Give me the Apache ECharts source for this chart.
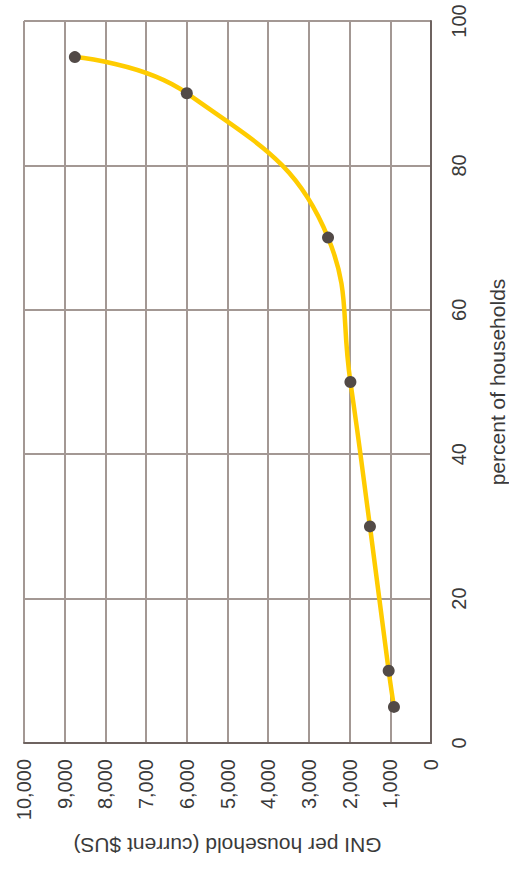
<!DOCTYPE html>
<html>
<head>
<meta charset="utf-8">
<script src="https://cdn.jsdelivr.net/npm/echarts@6/dist/echarts.min.js"></script>
<style>
html,body{margin:0;padding:0;background:#fff;}
#chart{width:509px;height:871px;}
</style>
</head>
<body>
<div id="chart"></div>
<script>
// percent of households (cumulative)
const percentHouseholds = [5, 10, 30, 50, 70, 90, 95];
// GNI per household (current $US)
const gniPerHousehold = [910, 1040, 1500, 1980, 2530, 6000, 8750];
const gniTicks = [0, 1000, 2000, 3000, 4000, 5000, 6000, 7000, 8000, 9000, 10000];
const percentTicks = [0, 20, 40, 60, 80, 100];

const points = percentHouseholds.map((p, i) => [gniPerHousehold[i], p]);

const chart = echarts.init(document.getElementById('chart'), null, {renderer: 'svg'});
const font = 'Liberation Sans, Arial, Helvetica, sans-serif';
const gridColor = '#a39894';
const axisColor = '#6e6360';
const textColor = '#3a3a3a';

chart.setOption({
  animation: false,
  grid: {left: 24, right: 78, top: 21, bottom: 128, containLabel: false, outerBoundsMode: 'none'},
  xAxis: {
    type: 'value',
    min: gniTicks[0],
    max: gniTicks[gniTicks.length - 1],
    interval: 1000,
    inverse: true,
    position: 'bottom',
    name: 'GNI per household (current $US)',
    nameLocation: 'middle',
    nameRotate: 180,
    nameGap: 92,
    nameTextStyle: {fontFamily: font, fontSize: 21, color: textColor},
    axisLine: {show: true, onZero: false, lineStyle: {color: axisColor, width: 2}},
    axisTick: {show: false},
    axisLabel: {
      rotate: 90, margin: 16, fontFamily: font, fontSize: 20, color: textColor,
      formatter: v => v.toLocaleString('en-US')
    },
    splitLine: {show: true, lineStyle: {color: gridColor, width: 2}}
  },
  yAxis: {
    type: 'value',
    min: percentTicks[0],
    max: percentTicks[percentTicks.length - 1],
    interval: 20,
    position: 'right',
    name: 'percent of households',
    nameLocation: 'middle',
    nameRotate: 90,
    nameGap: 56,
    nameTextStyle: {fontFamily: font, fontSize: 21, color: textColor},
    axisLine: {show: true, onZero: false, lineStyle: {color: axisColor, width: 2}},
    axisTick: {show: false},
    axisLabel: {rotate: 90, margin: 18, fontFamily: font, fontSize: 20, color: textColor},
    splitLine: {show: true, lineStyle: {color: gridColor, width: 2}}
  },
  series: [{
    type: 'line',
    data: points,
    smooth: 0.45,
    lineStyle: {color: '#ffcc00', width: 4.5},
    symbol: 'circle',
    symbolSize: 12,
    itemStyle: {color: '#524a47'},
    z: 3
  }]
});
</script>
</body>
</html>
